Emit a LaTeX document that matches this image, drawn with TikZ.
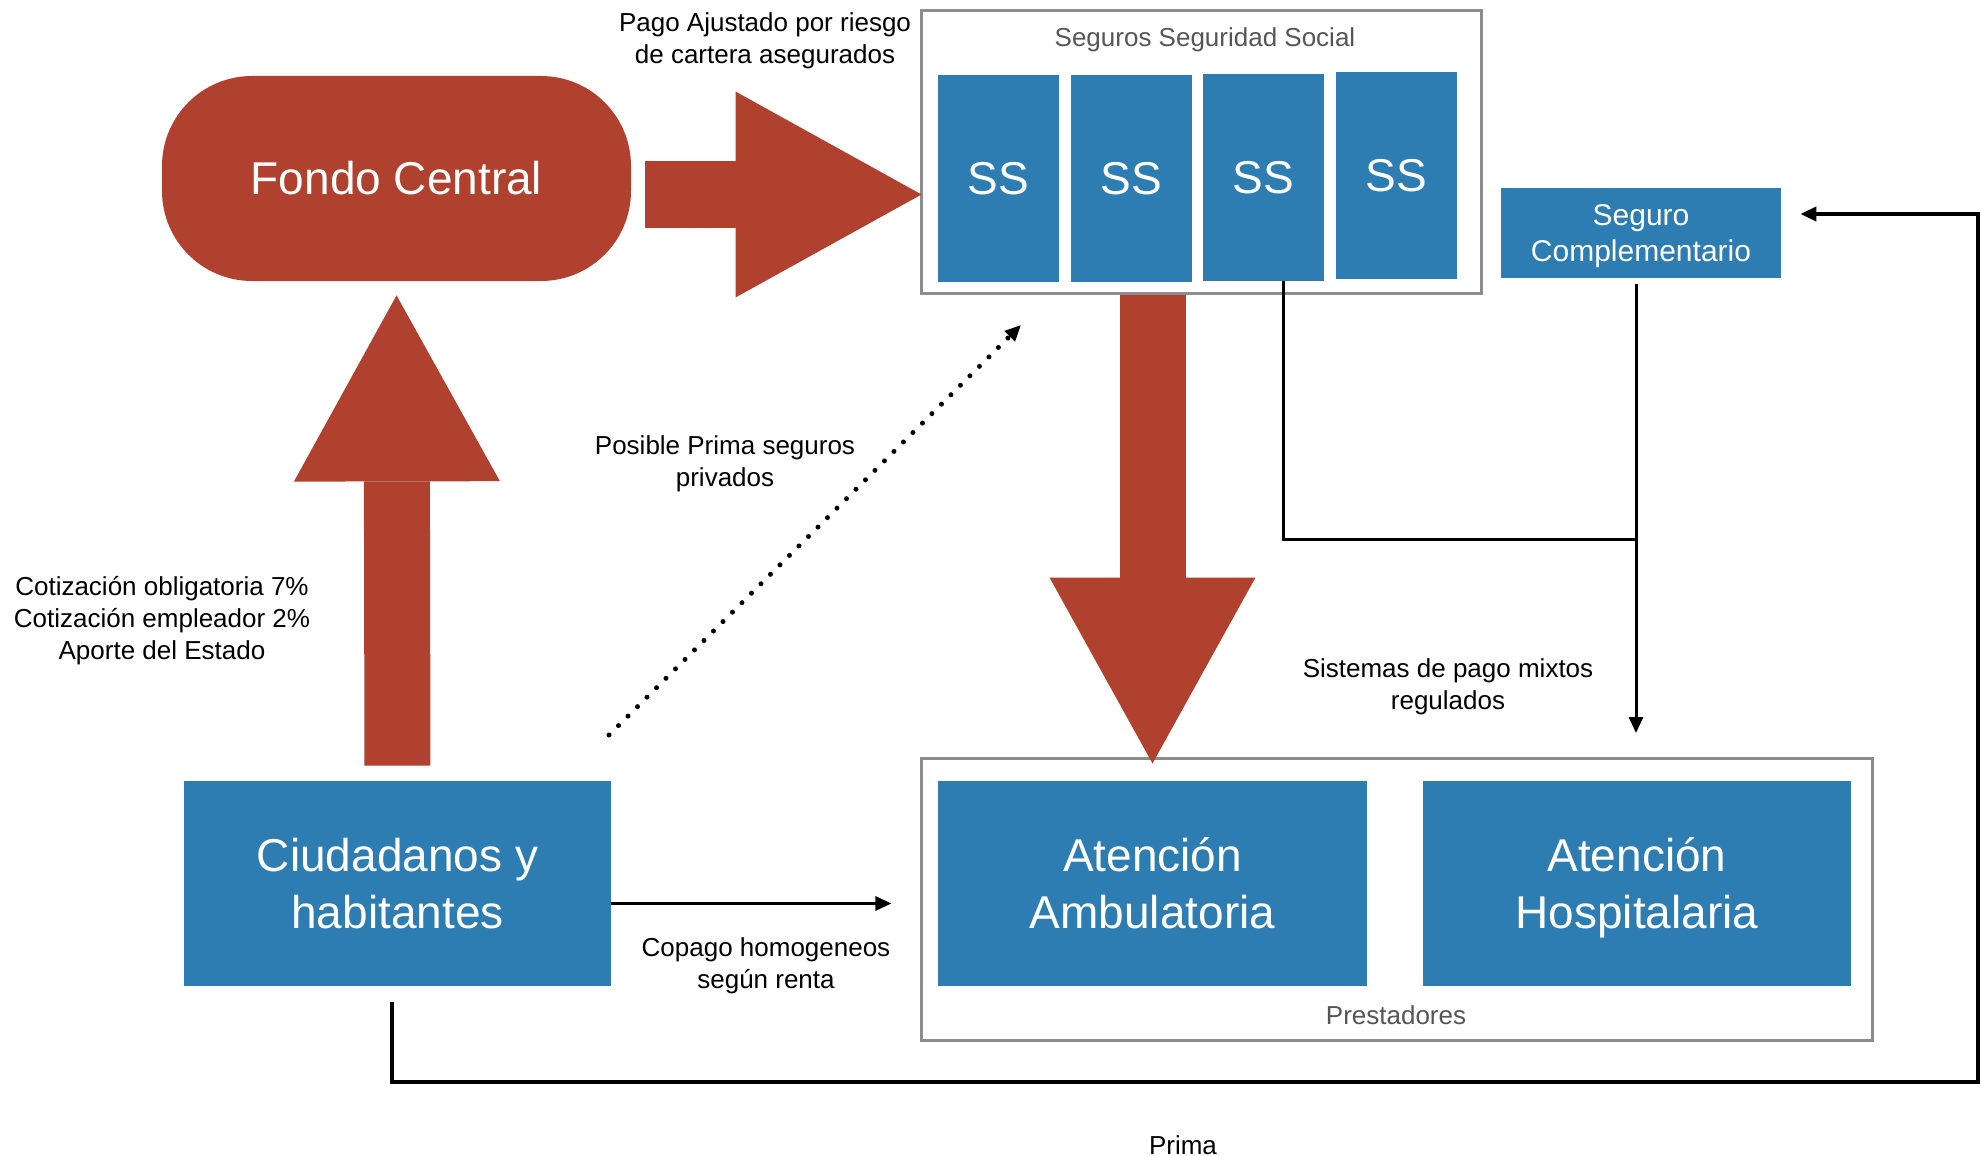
\documentclass[tikz,border=0pt]{standalone}
\usepackage{fontspec}
\setmainfont{Liberation Sans}
\usepackage{xcolor}
\usetikzlibrary{arrows.meta}
\definecolor{fundred}{HTML}{B0412F}
\definecolor{ssblue}{HTML}{2E7DB2}
\definecolor{framegray}{HTML}{8C8C8C}
\definecolor{titlegray}{HTML}{555555}
\tikzset{
  % node options
  fund/.style={rectangle,rounded corners=45pt,fill=fundred,text=white,
    minimum width=234.5pt,minimum height=102.5pt,font=\fontsize{23}{28}\selectfont},
  block/.style={rectangle,fill=ssblue,text=white,inner sep=0pt,align=center,
    font=\fontsize{23}{28.5}\selectfont},
  ss/.style={block,minimum width=60.5pt,minimum height=103pt},
  group/.style={rectangle,draw=framegray,line width=1.5pt},
  grouptitle/.style={text=titlegray,font=\fontsize{13}{16}\selectfont},
  note/.style={align=center,font=\fontsize{13}{16}\selectfont},
  % path options
  fat/.style={draw=fundred,line width=33pt,-{Triangle[length=93pt,width=103pt,line width=0pt]}},
  flow/.style={line width=1.5pt},
  flowarrow/.style={flow,-{Triangle[length=8pt,width=7pt]}},
  prima/.style={line width=2pt,-{Triangle[length=8pt,width=7pt]}},
  dotflow/.style={line width=2.5pt,line cap=round,dash pattern=on 0pt off 6.7pt,
    -{Triangle[length=8pt,width=7pt]}},
}
\begin{document}
\begin{tikzpicture}[x=0.5pt,y=-0.5pt]
    \useasboundingbox (0,0) rectangle (1988,1156);
    % funding and insurers
    \node[fund] (fondo) at (396.5,178.5) {Fondo Central};
    \node[group,minimum width=280pt,minimum height=141pt] (seguros) at (1201,152) {};
    \node[grouptitle] (seguros title) at (1205,40) {Seguros Seguridad Social};
    \node[ss] (ss1) at (998.5,178.5) {SS};
    \node[ss] (ss2) at (1131,178.5) {SS};
    \node[ss] (ss3) at (1263.5,177.5) {SS};
    \node[ss] (ss4) at (1396.5,175.5) {SS};
    \node[block,minimum width=140pt,minimum height=45pt,
      font=\fontsize{15}{18}\selectfont] (complementario) at (1641,233) {Seguro\\\smash{Complementario}};
    % citizens and providers
    \node[block,minimum width=213.5pt,minimum height=102.5pt] (ciudadanos) at (397.5,883.5) {Ciudadanos y\\habitantes};
    \node[group,minimum width=475.5pt,minimum height=141pt] (prestadores) at (1396.5,899) {};
    \node[block,minimum width=214.5pt,minimum height=102.5pt] (ambulatoria) at (1152.5,883.5) {Atención\\Ambulatoria};
    \node[block,minimum width=214pt,minimum height=102.5pt] (hospitalaria) at (1637,883.5) {Atención\\\smash{Hospitalaria}};
    \node[grouptitle] (prestadores title) at (1396,1015) {Prestadores};
    % labels
    \node[note] (pago) at (765,41) {Pago Ajustado por riesgo\\de cartera asegurados};
    \node[note] (posible) at (725,464) {Posible Prima seguros\\privados};
    \node[note] (cotizacion) at (162,621) {Cotización obligatoria 7\%\\Cotización empleador 2\%\\Aporte del Estado};
    \node[note] (copago) at (766,966) {Copago homogeneos\\según renta};
    \node[note] (sistemas) at (1448,687) {Sistemas de pago mixtos\\regulados};
    \node[note] (prima label) at (1183,1145) {Prima};
    % big flows
    \draw[fat,shorten <=7.5pt,shorten >=7pt] (ciudadanos.north) -- (fondo.south);
    \draw[fat,shorten <=7pt,shorten >=-1pt] ([yshift=-8pt]fondo.east) -- ([yshift=-8pt]fondo.east -| seguros.west);
    \draw[fat,shorten >=-3.5pt] (ambulatoria.north |- seguros.south) -- (ambulatoria.north |- prestadores.north);
    % payment lines
    \coordinate (mixto) at (1636,539);
    \coordinate (mixto end) at (1636,733);
    \draw[flow] ([xshift=10pt]ss3.south) |- (mixto);
    \draw[flowarrow] ([xshift=-2.5pt,yshift=-3pt]complementario.south) -- (mixto end);
    \draw[flowarrow] ([yshift=-10pt]ciudadanos.east) -- ++(280,0);
    \coordinate (prima corner) at (1978,1082);
    \draw[prima] ([xshift=-2.75pt,yshift=-8pt]ciudadanos.south) |- (prima corner)
      |- ([xshift=9.5pt,yshift=9.5pt]complementario.east);
    \coordinate (privado start) at (609,735);
    \coordinate (privado end) at (1021,325);
    \draw[dotflow] (privado start) -- (privado end);
  \end{tikzpicture}
\end{document}
